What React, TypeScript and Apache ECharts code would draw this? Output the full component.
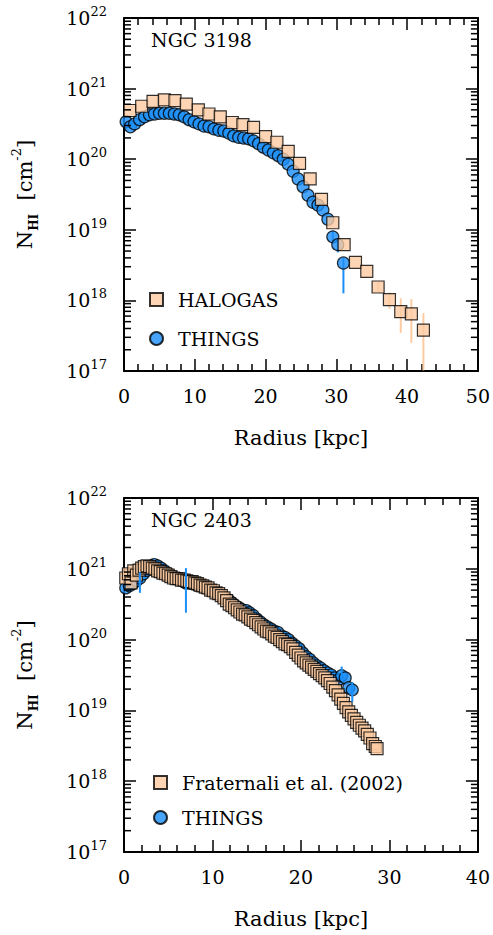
import React, { useEffect, useRef } from 'react';
import * as echarts from 'echarts';

const FONT = '"DejaVu Serif", serif';

// NGC 3198 -- HALOGAS (squares), log10 N_HI
const halogasR = [0.85, 2.5, 4.1, 5.7, 7.2, 8.8, 10.5, 12.0, 13.6, 15.3, 16.8, 18.3, 20.0, 21.6, 23.2, 24.8, 26.3, 27.9, 29.5, 31.1, 32.7, 34.3, 35.9, 37.5, 39.1, 40.6, 42.3];
const halogasLogN = [20.69, 20.75, 20.82, 20.84, 20.83, 20.78, 20.70, 20.64, 20.60, 20.52, 20.49, 20.45, 20.32, 20.24, 20.11, 19.94, 19.72, 19.43, 19.10, 18.79, 18.54, 18.41, 18.19, 18.01, 17.84, 17.81, 17.58];
// [radius, low, high] in log10
const halogasErr = [[35.9, 18.12, 18.26], [37.5, 17.88, 18.11], [39.1, 17.54, 18.03], [40.6, 17.40, 18.02], [42.3, 17.01, 17.82]];

// NGC 3198 -- THINGS (circles)
const things3198R = [0.3, 0.9, 1.5, 2.2, 2.9, 3.6, 4.3, 5.0, 5.7, 6.4, 7.1, 7.8, 8.5, 9.2, 9.9, 10.6, 11.3, 12.0, 12.7, 13.4, 14.1, 14.8, 15.5, 16.2, 16.9, 17.6, 18.3, 19.0, 19.7, 20.4, 21.1, 21.8, 22.5, 23.2, 23.9, 24.6, 25.3, 26.0, 26.7, 27.4, 28.1, 28.8, 29.5, 30.2, 31.0];
const things3198LogN = [20.53, 20.46, 20.50, 20.56, 20.60, 20.63, 20.64, 20.65, 20.65, 20.65, 20.64, 20.63, 20.60, 20.56, 20.53, 20.50, 20.47, 20.46, 20.43, 20.41, 20.40, 20.37, 20.33, 20.31, 20.30, 20.29, 20.26, 20.22, 20.17, 20.13, 20.09, 20.05, 20.00, 19.93, 19.83, 19.72, 19.61, 19.49, 19.39, 19.35, 19.28, 19.15, 18.90, 18.79, 18.53];
const things3198Err = [[29.5, 18.80, 18.98], [30.2, 18.68, 18.86], [31.0, 18.10, 18.60]];

// NGC 2403 -- Fraternali et al. (2002) (squares)
const fratR = [0.2, 0.5, 0.8, 1.1, 1.4, 1.7, 2.0, 2.3, 2.6, 2.9, 3.2, 3.5, 3.8, 4.1, 4.4, 4.7, 5.0, 5.3, 5.6, 5.9, 6.2, 6.5, 6.8, 7.1, 7.4, 7.7, 8.0, 8.3, 8.6, 8.9, 9.2, 9.5, 9.8, 10.1, 10.4, 10.7, 11.0, 11.3, 11.6, 11.9, 12.2, 12.5, 12.8, 13.1, 13.4, 13.7, 14.0, 14.3, 14.6, 14.9, 15.2, 15.5, 15.8, 16.1, 16.4, 16.7, 17.0, 17.3, 17.6, 17.9, 18.2, 18.5, 18.8, 19.1, 19.4, 19.7, 20.0, 20.3, 20.6, 20.9, 21.2, 21.5, 21.8, 22.1, 22.4, 22.7, 23.0, 23.3, 23.6, 23.9, 24.2, 24.5, 24.8, 25.1, 25.4, 25.7, 26.0, 26.3, 26.6, 26.9, 27.2, 27.5, 27.8, 28.1, 28.4, 28.6];
const fratLogN = [
  20.87, 20.93, 20.80, 20.97, 20.91, 20.98, 21.01, 21.03, 21.04, 21.03,
  21.01, 21.00, 20.97, 20.96, 20.94, 20.93, 20.91, 20.89, 20.87, 20.86,
  20.86, 20.84, 20.84, 20.83, 20.82, 20.82, 20.80, 20.79, 20.77, 20.76,
  20.74, 20.73, 20.70, 20.69, 20.66, 20.65, 20.62, 20.59, 20.55, 20.50,
  20.48, 20.45, 20.42, 20.39, 20.36, 20.35, 20.32, 20.29, 20.27, 20.24,
  20.21, 20.18, 20.15, 20.12, 20.11, 20.08, 20.05, 20.03, 20.00, 19.97,
  19.94, 19.93, 19.90, 19.87, 19.82, 19.78, 19.74, 19.70, 19.67, 19.64,
  19.61, 19.58, 19.55, 19.52, 19.49, 19.46, 19.42, 19.38, 19.33, 19.28,
  19.22, 19.16, 19.10, 19.04, 18.98, 18.93, 18.88, 18.83, 18.79, 18.75,
  18.71, 18.66, 18.61, 18.53, 18.49, 18.46,
];
const fratErr = [[28.1, 18.44, 18.62], [28.4, 18.40, 18.58], [28.6, 18.38, 18.54]];

// NGC 2403 -- THINGS (circles)
const things2403R = [0.2, 0.6, 1.0, 1.4, 1.8, 2.2, 2.6, 3.0, 3.4, 3.8, 4.2, 4.6, 5.0, 5.4, 5.8, 6.2, 6.6, 7.0, 7.4, 7.8, 8.2, 8.6, 9.0, 9.4, 9.8, 10.2, 10.6, 11.0, 11.4, 11.8, 12.2, 12.6, 13.0, 13.4, 13.8, 14.2, 14.6, 15.0, 15.4, 15.8, 16.2, 16.6, 17.0, 17.4, 17.8, 18.2, 18.6, 19.0, 19.4, 19.8, 20.2, 20.6, 21.0, 21.4, 21.8, 22.2, 22.6, 23.0, 23.4, 23.8, 24.2, 24.6, 25.0, 25.4, 25.8];
const things2403LogN = [
  20.73, 20.76, 20.79, 20.83, 20.87, 20.93, 20.98, 21.03, 21.06, 21.04,
  21.01, 20.97, 20.93, 20.90, 20.87, 20.86, 20.83, 20.80, 20.80, 20.79,
  20.77, 20.76, 20.74, 20.72, 20.70, 20.67, 20.65, 20.62, 20.59, 20.56,
  20.52, 20.48, 20.45, 20.42, 20.41, 20.38, 20.34, 20.29, 20.25, 20.21,
  20.18, 20.15, 20.12, 20.10, 20.05, 20.03, 20.00, 19.95, 19.91, 19.87,
  19.81, 19.76, 19.72, 19.67, 19.63, 19.60, 19.56, 19.53, 19.50, 19.46,
  19.43, 19.49, 19.46, 19.32, 19.29,
];
const things2403Err = [[1.8, 20.66, 20.95], [7.0, 20.38, 21.01], [24.6, 19.45, 19.62], [25.8, 19.12, 19.40]];

// y axis: decades and minor tick mantissas
const yDecades = [17, 18, 19, 20, 21];
const minorMantissas = [2, 3, 4, 5, 6, 7, 8, 9];

const toPoints = (r: number[], logN: number[]) => r.map((x, i) => [x, Math.pow(10, logN[i])]);
const toErr = (e: number[][]) => e.map(([x, lo, hi]) => [x, Math.pow(10, lo), Math.pow(10, hi)]);

const minorTicks: number[][] = [];
yDecades.forEach((d) => minorMantissas.forEach((m) => minorTicks.push([0, m * Math.pow(10, d)])));

const BLUE = '#1a8ff7';
const PEACH = '#fdcba1';

function App() {
  const chartRef = useRef(null);

  useEffect(() => {
    document.body.style.margin = '0';
    const chart = echarts.init(chartRef.current, null, { renderer: 'svg' });

    const axisLine = { onZero: false, lineStyle: { color: '#000', width: 2 } };
    const tickStyle = { color: '#000', width: 1.5 };

    const xAxisPair = (grid: number, max: number) => [
      {
        gridIndex: grid, type: 'value', min: 0, max, interval: 10, position: 'bottom',
        axisLine, splitLine: { show: false },
        axisTick: { inside: true, length: 12, lineStyle: tickStyle },
        minorTick: { show: true, splitNumber: 5, length: 7, lineStyle: tickStyle },
        axisLabel: { margin: 15, fontFamily: FONT, fontSize: 19, color: '#000' },
        name: 'Radius [kpc]', nameLocation: 'middle', nameGap: 56,
        nameTextStyle: { fontFamily: FONT, fontSize: 21, color: '#000' },
      },
      {
        gridIndex: grid, type: 'value', min: 0, max, interval: 10, position: 'top',
        axisLine, splitLine: { show: false },
        axisTick: { inside: true, length: 12, lineStyle: tickStyle },
        minorTick: { show: true, splitNumber: 5, length: 7, lineStyle: tickStyle },
        axisLabel: { show: false },
      },
    ];

    const yAxisPair = (grid: number) => [
      {
        gridIndex: grid, type: 'log', logBase: 10, min: 1e17, max: 1e22, position: 'left',
        axisLine, splitLine: { show: false },
        axisTick: { inside: true, length: 12, lineStyle: tickStyle },
        axisLabel: {
          margin: 17,
          formatter: (v: number) => `{a|10}{b|${Math.round(Math.log10(v))}}`,
          rich: {
            a: { fontFamily: FONT, fontSize: 19, color: '#000', lineHeight: 26 },
            b: { fontFamily: FONT, fontSize: 13, color: '#000', lineHeight: 14, verticalAlign: 'top' },
          },
        },
        name: '{n|N}{s|HI}{n|  [cm}{p|-2}{n|]}',
        nameLocation: 'middle', nameGap: 84, nameRotate: 90,
        nameTextStyle: {
          rich: {
            n: { fontFamily: FONT, fontSize: 21, color: '#000', lineHeight: 30 },
            s: { fontFamily: FONT, fontWeight: 'bold', fontSize: 12, color: '#000', lineHeight: 16, verticalAlign: 'bottom' },
            p: { fontFamily: FONT, fontSize: 13, color: '#000', lineHeight: 16, verticalAlign: 'top' },
          },
        },
      },
      {
        gridIndex: grid, type: 'log', logBase: 10, min: 1e17, max: 1e22, position: 'right',
        axisLine, splitLine: { show: false },
        axisTick: { inside: true, length: 12, lineStyle: tickStyle },
        axisLabel: { show: false },
      },
    ];

    const minorTickSeries = (xi: number, yi: number) => ({
      type: 'custom', xAxisIndex: xi, yAxisIndex: yi, silent: true, clip: false, z: 10,
      data: minorTicks,
      renderItem: (params: any, api: any) => {
        const cs = params.coordSys;
        const y = api.coord([0, api.value(1)])[1];
        const style = { stroke: '#000', lineWidth: 1.5 };
        return {
          type: 'group',
          children: [
            { type: 'line', shape: { x1: cs.x, y1: y, x2: cs.x + 7, y2: y }, style },
            { type: 'line', shape: { x1: cs.x + cs.width - 7, y1: y, x2: cs.x + cs.width, y2: y }, style },
          ],
        };
      },
    });

    const errSeries = (xi: number, yi: number, data: number[][], color: string, z: number) => ({
      type: 'custom', xAxisIndex: xi, yAxisIndex: yi, silent: true, z,
      encode: { x: 0, y: [1, 2] },
      data: toErr(data),
      renderItem: (params: any, api: any) => {
        const x = api.value(0);
        const p1 = api.coord([x, api.value(1)]);
        const p2 = api.coord([x, api.value(2)]);
        return { type: 'line', shape: { x1: p1[0], y1: p1[1], x2: p2[0], y2: p2[1] }, style: { stroke: color, lineWidth: 2 } };
      },
    });

    const circleStyle = { color: BLUE, borderColor: '#000', borderWidth: 1.2 };
    const squareStyle = { color: PEACH, borderColor: '#000', borderWidth: 1.2 };
    const legendText = { fontFamily: FONT, fontSize: 19, color: '#000', padding: [0, 0, 0, 10] };
    const titleText = { fontFamily: FONT, fontSize: 19, fontWeight: 'normal', color: '#000' };

    const options = {
      animation: false,
      title: [
        { text: 'NGC 3198', left: 151, top: 30, padding: 0, textStyle: titleText },
        { text: 'NGC 2403', left: 151, top: 510, padding: 0, textStyle: titleText },
      ],
      legend: [
        {
          left: 149, top: 290, orient: 'vertical', itemWidth: 13, itemHeight: 13, itemGap: 20, padding: 0,
          selectedMode: false, textStyle: legendText,
          data: [{ name: 'HALOGAS', icon: 'rect' }, { name: 'THINGS', icon: 'circle' }],
        },
        {
          left: 153, top: 773, orient: 'vertical', itemWidth: 13, itemHeight: 13, itemGap: 16, padding: 0,
          selectedMode: false, textStyle: legendText,
          data: [{ name: 'Fraternali et al. (2002)', icon: 'rect' }, { name: 'THINGS', icon: 'circle' }],
        },
      ],
      grid: [
        { left: 124, top: 18, width: 355, height: 353 },
        { left: 124, top: 498, width: 354, height: 354 },
      ],
      xAxis: [...xAxisPair(0, 50), ...xAxisPair(1, 40)],
      yAxis: [...yAxisPair(0), ...yAxisPair(1)],
      series: [
        minorTickSeries(0, 0),
        minorTickSeries(2, 2),
        errSeries(0, 0, halogasErr, PEACH, 1),
        errSeries(0, 0, things3198Err, BLUE, 1),
        {
          name: 'THINGS', type: 'scatter', xAxisIndex: 0, yAxisIndex: 0, symbol: 'circle', symbolSize: 12,
          itemStyle: circleStyle, z: 3, data: toPoints(things3198R, things3198LogN),
        },
        {
          name: 'HALOGAS', type: 'scatter', xAxisIndex: 0, yAxisIndex: 0, symbol: 'rect', symbolSize: 12,
          itemStyle: squareStyle, z: 4, data: toPoints(halogasR, halogasLogN),
        },
        {
          name: 'THINGS', type: 'scatter', xAxisIndex: 2, yAxisIndex: 2, symbol: 'circle', symbolSize: 12,
          itemStyle: circleStyle, z: 3, data: toPoints(things2403R, things2403LogN),
        },
        {
          name: 'Fraternali et al. (2002)', type: 'scatter', xAxisIndex: 2, yAxisIndex: 2, symbol: 'rect', symbolSize: 12,
          itemStyle: squareStyle, z: 4, data: toPoints(fratR, fratLogN),
        },
        errSeries(2, 2, fratErr, PEACH, 2),
        errSeries(2, 2, things2403Err, BLUE, 5),
      ],
    };

    chart.setOption(options);

    return () => {
      chart.dispose();
    };
  }, []);

  return <div ref={chartRef} style={{ width: '493px', height: '935px' }}></div>;
}

export default App;
